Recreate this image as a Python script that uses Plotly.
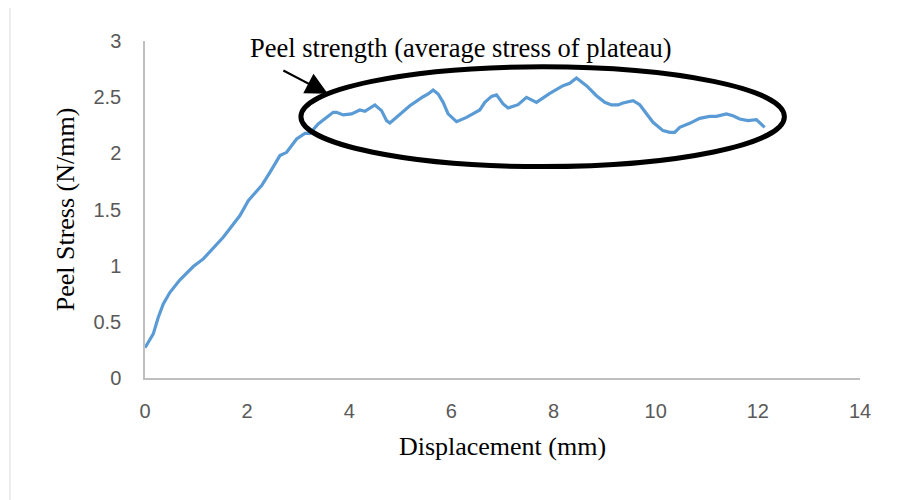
import plotly.graph_objects as go

# Displacement (mm)
displacement = [0.00, 0.162, 0.260, 0.358, 0.489, 0.685, 0.945, 1.141, 1.532, 1.859,
                2.022, 2.284, 2.446, 2.642, 2.773, 2.969, 3.131, 3.229, 3.391, 3.556,
                3.685, 3.751, 3.881, 4.045, 4.207, 4.305, 4.501, 4.632, 4.730, 4.795,
                4.926, 5.186, 5.446, 5.544, 5.642, 5.740, 5.838, 5.935, 6.100, 6.295,
                6.556, 6.654, 6.785, 6.883, 7.012, 7.110, 7.305, 7.470, 7.665, 7.795,
                7.926, 8.186, 8.317, 8.448, 8.644, 8.840, 9.002, 9.133, 9.262, 9.360,
                9.556, 9.687, 9.818, 9.947, 10.143, 10.274, 10.372, 10.470, 10.665, 10.861,
                11.057, 11.188, 11.384, 11.513, 11.644, 11.806, 11.971, 12.035, 12.133]
# Peel stress (N/mm)
peel_stress = [0.269, 0.393, 0.541, 0.660, 0.763, 0.874, 0.992, 1.060, 1.253, 1.446,
               1.579, 1.713, 1.831, 1.980, 2.009, 2.128, 2.178, 2.178, 2.262, 2.320,
               2.365, 2.365, 2.342, 2.351, 2.386, 2.374, 2.431, 2.380, 2.291, 2.270,
               2.320, 2.424, 2.504, 2.528, 2.564, 2.528, 2.454, 2.351, 2.282, 2.320,
               2.386, 2.454, 2.507, 2.520, 2.440, 2.404, 2.433, 2.498, 2.454, 2.493,
               2.534, 2.602, 2.623, 2.671, 2.602, 2.513, 2.454, 2.431, 2.431, 2.448,
               2.469, 2.433, 2.351, 2.276, 2.202, 2.187, 2.187, 2.231, 2.267, 2.311,
               2.329, 2.329, 2.351, 2.335, 2.306, 2.291, 2.300, 2.276, 2.231]

x_ticks = [0, 2, 4, 6, 8, 10, 12, 14]
y_ticks = [0, 0.5, 1, 1.5, 2, 2.5, 3]
y_tick_labels = ["0", "0.5", "1", "1.5", "2", "2.5", "3"]

annotation_text = "Peel strength (average stress of plateau)"
x_title = "Displacement (mm)"
y_title = "Peel Stress (N/mm)"

serif = "Liberation Serif, Times New Roman, serif"
sans = "Liberation Sans, Arial, sans-serif"

fig = go.Figure()
fig.add_trace(go.Scatter(
    x=displacement, y=peel_stress, mode="lines",
    line=dict(color="#5B9BD5", width=3.2), showlegend=False, hoverinfo="x+y"))

# Ellipse marking the plateau
fig.add_shape(type="circle", xref="x", yref="y",
              x0=3.053, x1=12.52, y0=1.882, y1=2.771,
              line=dict(color="black", width=5))

# Arrow
fig.add_annotation(x=3.58, y=2.53, ax=2.68, ay=2.745, xref="x", yref="y",
                   axref="x", ayref="y", text="", showarrow=True,
                   arrowhead=2, arrowsize=2, arrowwidth=2.2, arrowcolor="black")

# Label
fig.add_annotation(x=6.18, y=2.94, xref="x", yref="y", text=annotation_text,
                   showarrow=False, font=dict(family=serif, size=26.5, color="black"))

# Outer chart border
fig.add_shape(type="rect", xref="paper", yref="paper",
              x0=-0.1888, x1=1.08, y0=-0.42, y1=1.104,
              line=dict(color="#D9D9D9", width=1), layer="below")

fig.update_layout(
    width=897, height=500,
    margin=dict(l=137, r=45, t=33, b=130),
    paper_bgcolor="white", plot_bgcolor="white",
    showlegend=False,
    xaxis=dict(range=[0, 14], tickvals=x_ticks, showgrid=False, zeroline=False,
               showline=True, linecolor="#BFBFBF", linewidth=1.5,
               ticks="", ticklabelstandoff=14,
               tickfont=dict(family=sans, size=20, color="#595959"),
               title=dict(text=x_title, font=dict(family=serif, size=26, color="black"),
                          standoff=16)),
    yaxis=dict(range=[0, 3], tickvals=y_ticks, ticktext=y_tick_labels,
               showgrid=False, zeroline=False,
               showline=True, linecolor="#BFBFBF", linewidth=1.5,
               ticks="", ticklabelstandoff=18,
               tickfont=dict(family=sans, size=20, color="#595959"),
               title=dict(text=y_title, font=dict(family=serif, size=26, color="black"),
                          standoff=11)),
)

fig.write_html("out.html")
